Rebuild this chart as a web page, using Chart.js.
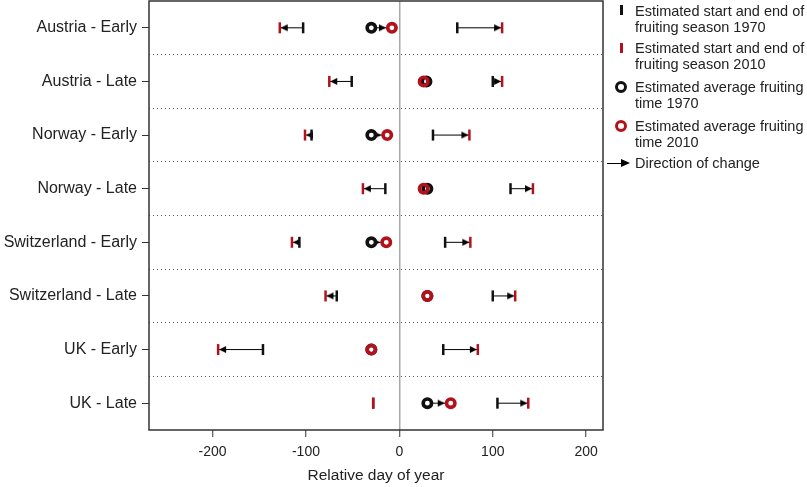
<!DOCTYPE html>
<html><head><meta charset="utf-8">
<script src="https://cdn.jsdelivr.net/npm/chart.js@4.4.1/dist/chart.umd.min.js"></script>
<style>
html,body{margin:0;padding:0;background:#fff;}
#wrap{position:relative;width:807px;height:487px;overflow:hidden;}
#c{position:absolute;left:0;top:0;}
.lg{position:absolute;left:635px;font-family:"Liberation Sans",Arial,sans-serif;font-size:14.5px;line-height:16px;color:#222;white-space:nowrap;}
.bar{position:absolute;left:620px;width:2.5px;height:10px;}
.circ{position:absolute;left:615px;width:12px;height:12px;border-radius:50%;border:3.5px solid;box-sizing:border-box;}
</style></head><body>
<div id="wrap"><canvas id="c" width="807" height="487"></canvas>
<div id="legend">
  <div class="bar" style="top:5px;background:#111;"></div>
  <div class="lg" style="top:3px;">Estimated start and end of<br>fruiting season 1970</div>
  <div class="bar" style="top:43px;background:#b3121c;"></div>
  <div class="lg" style="top:40px;">Estimated start and end of<br>fruiting season 2010</div>
  <div class="circ" style="top:81px;border-color:#111;"></div>
  <div class="lg" style="top:79px;">Estimated average fruiting<br>time 1970</div>
  <div class="circ" style="top:120px;border-color:#b3121c;"></div>
  <div class="lg" style="top:118px;">Estimated average fruiting<br>time 2010</div>
  <div style="position:absolute;left:607px;top:162.5px;width:15px;height:1px;background:#000;"></div>
  <div style="position:absolute;left:621px;top:159px;width:0;height:0;border-left:9px solid #000;border-top:4px solid transparent;border-bottom:4px solid transparent;"></div>
  <div class="lg" style="top:155px;">Direction of change</div>
</div></div>
<script>
const categories = ['Austria - Early','Austria - Late','Norway - Early','Norway - Late','Switzerland - Early','Switzerland - Late','UK - Early','UK - Late'];
const start1970 = [-103, -51, -94, -15, -107, -67, -146, -28];
const start2010 = [-128, -75, -101, -39, -115, -79, -194, -28];
const mean1970  = [-30, 29, -30, 30, -30, 30, -30, 30];
const mean2010  = [-8, 26, -13, 26, -14, 30, -30, 55];
const end1970   = [62, 100, 36, 119, 49, 100, 47, 105];
const end2010   = [110, 110, 75, 143, 76, 124, 84, 138];
const xTicks = [-200, -100, 0, 100, 200];
const xTitle = 'Relative day of year';

const FONT = '"Liberation Sans", Arial, sans-serif';
const BLACK = '#111', RED = '#b3121c';
const rowY = categories.map((c, i) => i + 1);
const separators = categories.slice(1).map((c, i) => i + 1.5);
const pts = arr => arr.map((v, i) => ({x: v, y: rowY[i]}));

function makeHead(len, half, tipOffset) {
  const w = Math.ceil(2 * (tipOffset + len) + 2), h = 2 * half + 2;
  const c = document.createElement('canvas'); c.width = w; c.height = h;
  const g = c.getContext('2d'); const cx = w / 2, cy = h / 2;
  g.fillStyle = '#000'; g.beginPath();
  g.moveTo(cx - tipOffset, cy); g.lineTo(cx - tipOffset - len, cy - half); g.lineTo(cx - tipOffset - len, cy + half);
  g.closePath(); g.fill();
  return c;
}
const headBar = makeHead(7, 3.5, 1);
const CIRC_OUT = 6;
const headCirc = makeHead(7, 3.5, CIRC_OUT);

const datasets = [];
function addSegments(a, b) {
  a.forEach((v, i) => {
    if (v !== b[i]) datasets.push({type: 'scatter', showLine: true, data: [{x: v, y: rowY[i]}, {x: b[i], y: rowY[i]}],
      borderColor: '#000', borderWidth: 1, pointRadius: 0, order: 10});
  });
}
addSegments(start1970, start2010); addSegments(end1970, end2010); addSegments(mean1970, mean2010);

function heads(a, b) {
  const out = [];
  a.forEach((v, i) => { if (v !== b[i]) out.push({x: b[i], y: rowY[i], from: v, rot: b[i] > v ? 0 : 180}); });
  return out;
}
const pxGap = (ctx, r) => { const s = ctx.chart.scales.x; return Math.abs(s.getPixelForValue(r.x) - s.getPixelForValue(r.from)); };
datasets.push({data: heads(start1970, start2010).concat(heads(end1970, end2010)), pointStyle: headBar,
  rotation: ctx => ctx.raw ? ctx.raw.rot : 0, pointRadius: 4, order: 9});
datasets.push({data: heads(mean1970, mean2010),
  pointStyle: ctx => (ctx.raw && pxGap(ctx, ctx.raw) > 2 * CIRC_OUT + 2) ? headCirc : false,
  rotation: ctx => ctx.raw ? ctx.raw.rot : 0, pointRadius: 4, order: 9});
datasets.push({data: pts(start1970).concat(pts(end1970)), pointStyle: 'line', rotation: 90, pointRadius: 5.5,
  borderWidth: 2.5, borderColor: BLACK, order: 8});
datasets.push({data: pts(mean1970), pointStyle: 'circle', pointRadius: 4.2, borderWidth: 3.6,
  borderColor: BLACK, backgroundColor: '#fff', order: 7});
datasets.push({data: pts(start2010).concat(pts(end2010)), pointStyle: 'line', rotation: 90, pointRadius: 5.5,
  borderWidth: 2.5, borderColor: RED, order: 6});
datasets.push({data: pts(mean2010).map((p, i) => ({...p, from: mean1970[i]})), pointStyle: 'circle', pointRadius: 4.2, borderWidth: 3.6,
  borderColor: RED, backgroundColor: ctx => (ctx.raw && pxGap(ctx, ctx.raw) > 2 * CIRC_OUT) ? '#fff' : 'rgba(0,0,0,0)', order: 5});

const boxPlugin = {
  id: 'box',
  afterDatasetsDraw(chart) {
    const {ctx, chartArea: a} = chart;
    ctx.save(); ctx.strokeStyle = '#333'; ctx.lineWidth = 1.5;
    ctx.strokeRect(a.left, a.top, a.right - a.left, a.bottom - a.top);
    ctx.restore();
  }
};
const noPad = s => { s.paddingTop = 0; s.paddingBottom = 0; s.paddingLeft = 0; s.paddingRight = 0; };

new Chart(document.getElementById('c'), {
  type: 'scatter',
  data: {datasets},
  plugins: [boxPlugin],
  options: {
    responsive: false, animation: false, devicePixelRatio: 1, events: [],
    layout: {autoPadding: false, padding: {top: 1, right: 204, left: 0, bottom: 0}},
    plugins: {legend: {display: false}, tooltip: {enabled: false}},
    scales: {
      x: {
        type: 'linear', min: -268, max: 218,
        afterBuildTicks: s => { s.ticks = xTicks.map(v => ({value: v})); },
        afterFit: s => { s.height = 57; noPad(s); },
        ticks: {font: {family: FONT, size: 14}, color: '#222', padding: 7, maxRotation: 0, autoSkip: false},
        grid: {color: c => (c.tick && c.tick.value === 0) ? '#a8a8a8' : 'rgba(0,0,0,0)', lineWidth: 1.5,
          tickColor: '#333', tickWidth: 1, tickLength: 7},
        border: {display: false},
        title: {display: true, text: xTitle, font: {family: FONT, size: 15.5}, color: '#222', padding: {top: 0, bottom: 2}}
      },
      y: {
        type: 'linear', position: 'left', min: 0.5, max: 8.5, reverse: true,
        afterBuildTicks: s => { s.ticks = rowY.map(v => ({value: v})); },
        afterFit: s => { s.width = 149; noPad(s); },
        ticks: {callback: v => categories[v - 1], font: {family: FONT, size: 16}, color: '#222', padding: 5, autoSkip: false},
        grid: {color: 'rgba(0,0,0,0)', tickColor: '#333', tickWidth: 1, tickLength: 7},
        border: {display: false}
      },
      y2: {
        type: 'linear', position: 'left', min: 0.5, max: 8.5, reverse: true,
        afterBuildTicks: s => { s.ticks = separators.map(v => ({value: v})); },
        afterFit: s => { s.width = 0; noPad(s); },
        ticks: {display: false},
        grid: {color: '#555', lineWidth: 1, drawTicks: false},
        border: {display: false, dash: [1, 3]}
      }
    }
  }
});
</script>
</body></html>
